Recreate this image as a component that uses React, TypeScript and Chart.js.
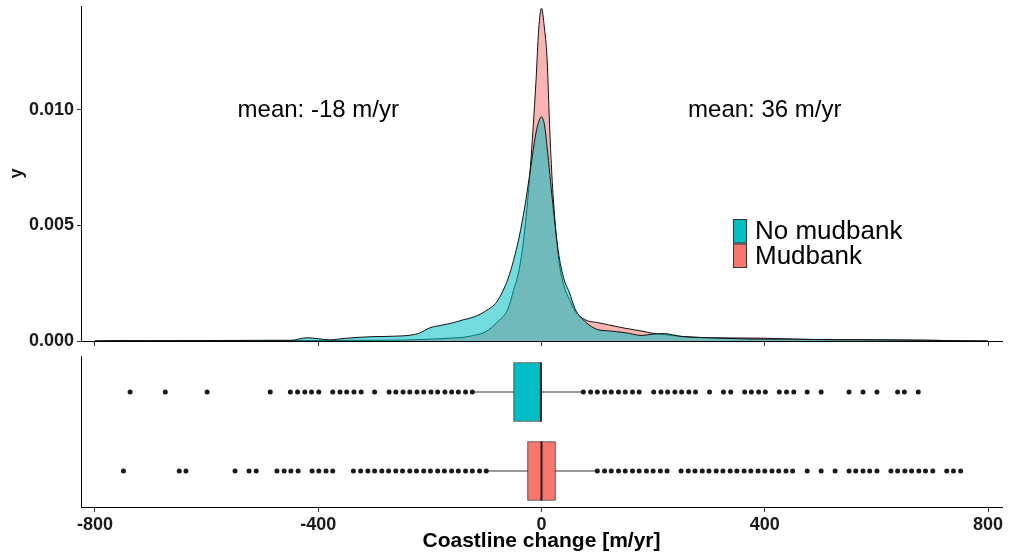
import React, { useEffect, useRef } from 'react';
import { Chart, registerables } from 'chart.js';
Chart.register(...registerables);

// ---------- data ----------
const xGrid = [-800, -750, -700, -600, -500, -450, -420, -400, -380, -350, -300, -250, -220, -200, -180, -160, -140, -120, -100, -80, -60, -50, -40, -30, -20, -10, -5, 0, 5, 10, 15, 20, 30, 40, 50, 60, 80, 100, 120, 150, 180, 200, 220, 250, 300, 350, 400, 450, 500, 600, 700, 750, 800];
const densityNoMudbank = [0, 0.00002, 0.00001, 0.00002, 0.00003, 0.00003, 0.00014, 0.0001, 0.00005, 0.00012, 0.00019, 0.00022, 0.00033, 0.00057, 0.00068, 0.00078, 0.00092, 0.00105, 0.0013, 0.0017, 0.0027, 0.0035, 0.0045, 0.0058, 0.0074, 0.009, 0.0095, 0.0097, 0.0094, 0.0084, 0.0072, 0.006, 0.0039, 0.0027, 0.0021, 0.0014, 0.0008, 0.0005, 0.00044, 0.00036, 0.00024, 0.0003, 0.00032, 0.0002, 0.00014, 0.0001, 0.00008, 0.00008, 0.00006, 0.00005, 0.00003, 0.00001, 0];
const densityMudbank = [0, 0.00001, 0.00001, 0.00002, 0.00002, 0.00002, 0.00002, 0.00002, 0.00002, 0.00003, 0.00003, 0.00004, 0.00006, 0.00008, 0.0001, 0.00013, 0.00016, 0.00025, 0.0004, 0.0008, 0.0014, 0.0022, 0.0031, 0.0048, 0.0075, 0.0112, 0.0135, 0.0144, 0.0136, 0.0122, 0.009, 0.0066, 0.0037, 0.0024, 0.0018, 0.0013, 0.0009, 0.0008, 0.0007, 0.00055, 0.00043, 0.00033, 0.00028, 0.0002, 0.00014, 0.00013, 0.00012, 0.00008, 0.00006, 0.00005, 0.00003, 0.00001, 0];

const xTicks = [-800, -400, 0, 400, 800];
const yTicks = [0, 0.005, 0.01];
const groupNames = ['No mudbank', 'Mudbank'];
const meanLabels = ['mean: -18 m/yr', 'mean: 36 m/yr'];
const meanX = [-400, 400];
const meanY = [0.01, 0.01];

// whisker low, q1, median, q3, whisker high
const statsNoMudbank = [-121, -50, -1, 0, 72];
const statsMudbank = [-96, -25, 0, 25, 97];
const outliersNoMudbank = [-737, -674, -599, -486, -450, -437, -424, -412, -399, -374, -361, -349, -336, -323, -299, -273, -261, -248, -236, -223, -211, -198, -186, -173, -161, -149, -136, -124, 75, 88, 100, 113, 125, 138, 150, 163, 175, 201, 214, 226, 239, 251, 264, 276, 301, 326, 339, 364, 376, 389, 401, 426, 439, 452, 476, 501, 551, 576, 601, 638, 650, 675];
const outliersMudbank = [-749, -649, -637, -549, -524, -511, -474, -461, -449, -436, -411, -399, -386, -374, -337, -324, -311, -299, -286, -274, -261, -249, -236, -224, -211, -199, -186, -174, -161, -149, -136, -124, -111, -99, 100, 113, 125, 138, 150, 163, 175, 188, 200, 213, 225, 250, 263, 275, 288, 300, 313, 325, 338, 350, 363, 375, 388, 400, 413, 425, 438, 450, 476, 501, 526, 551, 563, 576, 588, 601, 626, 638, 651, 663, 676, 688, 701, 726, 738, 751];

const TEAL = '#00BFC4';
const PINK = '#F8766D';
const FONT = '"Liberation Sans", Arial, Helvetica, sans-serif';
const TEXT = '#1a1a1a';

const zeroPad = (s: any) => {
  s.paddingTop = 0;
  s.paddingBottom = 0;
  s.paddingLeft = 0;
  s.paddingRight = 0;
};

const annotationPlugin = {
  id: 'annotations',
  afterDraw(chart: any) {
    const ctx = chart.ctx;
    const xs = chart.scales.x;
    const ys = chart.scales.y;
    ctx.save();
    ctx.fillStyle = '#000';
    ctx.font = `24px ${FONT}`;
    ctx.textAlign = 'center';
    ctx.textBaseline = 'middle';
    meanLabels.forEach((t, i) => {
      ctx.fillText(t, xs.getPixelForValue(meanX[i]), ys.getPixelForValue(meanY[i]));
    });
    // legend
    const lx = 733, ly = 219, bw = 14, bh = 24.5;
    const cols = [TEAL, PINK];
    ctx.textAlign = 'left';
    ctx.font = `26px ${FONT}`;
    groupNames.forEach((g, i) => {
      const y0 = ly + i * bh;
      ctx.fillStyle = cols[i];
      ctx.fillRect(lx, y0, bw, bh);
      ctx.strokeStyle = '#333';
      ctx.lineWidth = 1;
      ctx.strokeRect(lx + 0.5, y0 + 0.5, bw - 1, bh - 1);
      ctx.fillStyle = '#000';
      ctx.fillText(g, lx + bw + 8, y0 + bh / 2 + 1);
    });
    ctx.restore();
  },
};

export default function App() {
  const topRef = useRef<HTMLCanvasElement>(null);
  const botRef = useRef<HTMLCanvasElement>(null);

  useEffect(() => {
    const top = new Chart(topRef.current!, {
      type: 'line',
      data: {
        datasets: [
          {
            label: groupNames[0],
            data: xGrid.map((x, i) => ({ x, y: densityNoMudbank[i] })),
            fill: 'origin',
            backgroundColor: 'rgba(0,191,196,0.55)',
            borderColor: '#111',
            borderWidth: 1,
            pointRadius: 0,
            cubicInterpolationMode: 'monotone',
            order: 0,
          },
          {
            label: groupNames[1],
            data: xGrid.map((x, i) => ({ x, y: densityMudbank[i] })),
            fill: 'origin',
            backgroundColor: 'rgba(248,118,109,0.55)',
            borderColor: '#111',
            borderWidth: 1,
            pointRadius: 0,
            cubicInterpolationMode: 'monotone',
            order: 1,
          },
        ],
      },
      options: {
        responsive: false,
        animation: false,
        layout: { padding: { left: 0, right: 12, top: 6, bottom: 0 } },
        plugins: { legend: { display: false }, tooltip: { enabled: false } },
        scales: {
          x: {
            type: 'linear',
            min: -825,
            max: 825,
            offset: false,
            afterBuildTicks: (s: any) => { s.ticks = xTicks.map((v) => ({ value: v })); },
            ticks: { display: false },
            grid: { offset: false, drawOnChartArea: false, drawTicks: true, tickLength: 5, color: '#333' },
            border: { display: true, color: '#000', width: 1 },
            afterFit: (s: any) => { s.height = 5; zeroPad(s); },
          },
          y: {
            type: 'linear',
            min: 0,
            max: 0.0145,
            afterBuildTicks: (s: any) => { s.ticks = yTicks.map((v) => ({ value: v })); },
            ticks: {
              callback: (v: any) => Number(v).toFixed(3),
              font: { family: FONT, size: 18, weight: 'bold' },
              color: TEXT,
              padding: 3,
            },
            grid: { drawOnChartArea: false, drawTicks: true, tickLength: 4, color: '#333' },
            border: { display: true, color: '#000', width: 1 },
            title: {
              display: true,
              text: 'y',
              font: { family: FONT, size: 18, weight: 'bold' },
              color: TEXT,
              padding: { top: 6, bottom: 0 },
            },
            afterFit: (s: any) => { s.width = 81; zeroPad(s); },
          },
        },
      },
      plugins: [annotationPlugin],
    } as any);

    const rows = [2, 1];
    const half = 0.375;
    const bot = new Chart(botRef.current!, {
      type: 'bar',
      data: {
        datasets: [
          {
            type: 'line',
            data: [{ x: statsNoMudbank[0], y: rows[0] }, { x: statsNoMudbank[4], y: rows[0] }],
            borderColor: '#333', borderWidth: 1, pointRadius: 0, order: 3,
          },
          {
            type: 'line',
            data: [{ x: statsMudbank[0], y: rows[1] }, { x: statsMudbank[4], y: rows[1] }],
            borderColor: '#333', borderWidth: 1, pointRadius: 0, order: 3,
          },
          {
            type: 'bar',
            indexAxis: 'y',
            data: [
              { x: [statsNoMudbank[1], statsNoMudbank[3]], y: rows[0] },
              { x: [statsMudbank[1], statsMudbank[3]], y: rows[1] },
            ],
            backgroundColor: [TEAL, PINK],
            borderColor: '#333',
            borderWidth: 1,
            borderSkipped: false,
            barThickness: 59,
            order: 2,
          },
          {
            type: 'line',
            data: [{ x: statsNoMudbank[2], y: rows[0] - half }, { x: statsNoMudbank[2], y: rows[0] + half }],
            borderColor: '#222', borderWidth: 2, pointRadius: 0, order: 1,
          },
          {
            type: 'line',
            data: [{ x: statsMudbank[2], y: rows[1] - half }, { x: statsMudbank[2], y: rows[1] + half }],
            borderColor: '#222', borderWidth: 2, pointRadius: 0, order: 1,
          },
          {
            type: 'scatter',
            data: outliersNoMudbank.map((x) => ({ x, y: rows[0] })),
            pointRadius: 2.5, backgroundColor: '#1a1a1a', borderWidth: 0, order: 0,
          },
          {
            type: 'scatter',
            data: outliersMudbank.map((x) => ({ x, y: rows[1] })),
            pointRadius: 2.5, backgroundColor: '#1a1a1a', borderWidth: 0, order: 0,
          },
        ],
      },
      options: {
        responsive: false,
        animation: false,
        layout: { padding: { left: 0, right: 12, top: 10, bottom: 0 } },
        plugins: { legend: { display: false }, tooltip: { enabled: false } },
        scales: {
          x: {
            type: 'linear',
            min: -825,
            max: 825,
            offset: false,
            afterBuildTicks: (s: any) => { s.ticks = xTicks.map((v) => ({ value: v })); },
            ticks: {
              callback: (v: any) => String(v),
              font: { family: FONT, size: 18, weight: 'bold' },
              color: TEXT,
              padding: 2,
              maxRotation: 0,
            },
            grid: { offset: false, drawOnChartArea: false, drawTicks: true, tickLength: 5, color: '#333' },
            border: { display: true, color: '#000', width: 1 },
            title: {
              display: true,
              text: 'Coastline change [m/yr]',
              font: { family: FONT, size: 21, weight: 'bold' },
              color: '#000',
              padding: { top: 0, bottom: 0 },
            },
            afterFit: (s: any) => { s.height = 47; zeroPad(s); },
          },
          y: {
            type: 'linear',
            min: 0.544,
            max: 2.456,
            offset: false,
            ticks: { display: false },
            grid: { display: false, drawOnChartArea: false, drawTicks: false },
            border: { display: true, color: '#000', width: 1 },
            afterFit: (s: any) => { s.width = 81; zeroPad(s); },
          },
        },
      },
    } as any);

    return () => {
      top.destroy();
      bot.destroy();
    };
  }, []);

  return (
    <div style={{ position: 'absolute', left: 0, top: 0, width: 1014, height: 554, background: '#fff' }}>
      <canvas ref={topRef} width={1014} height={346} style={{ position: 'absolute', left: 0, top: 0, width: 1014, height: 346 }} />
      <canvas ref={botRef} width={1014} height={208} style={{ position: 'absolute', left: 0, top: 346, width: 1014, height: 208 }} />
    </div>
  );
}
